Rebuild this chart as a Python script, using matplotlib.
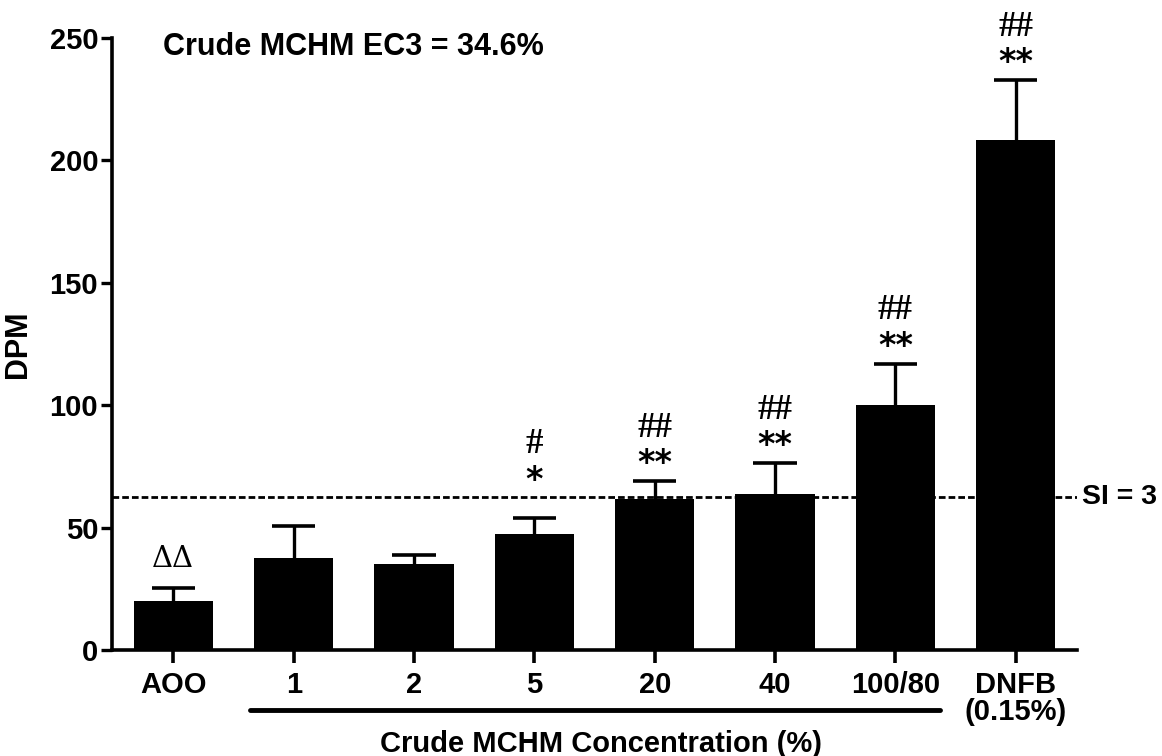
import numpy as np
import matplotlib.pyplot as plt

# groups on the x axis
groups = ["AOO", "1", "2", "5", "20", "40", "100/80", "DNFB\n(0.15%)"]
# mean DPM and upper error (SEM)
dpm_mean = [20.2, 37.6, 35.1, 47.3, 61.6, 63.6, 100.0, 208.5]
dpm_err = [5.0, 13.2, 3.7, 6.7, 7.4, 12.8, 17.0, 24.5]
# significance marks above each bar
marks_top = ["\u0394\u0394", "", "", "#", "##", "##", "##", "##"]
marks_low = ["", "", "", "*", "**", "**", "**", "**"]
si3_level = 62.4
ec3_text = "Crude MCHM EC3 = 34.6%"

bold = {"family": "Liberation Sans", "weight": "bold"}
FS = 21

fig = plt.figure(figsize=(11.62, 7.56), dpi=100)
ax = fig.add_axes([0.0964, 0.1402, 0.8305, 0.8095])

x = np.arange(len(groups))
mean = np.array(dpm_mean)
top = mean + np.array(dpm_err)
ax.bar(x, mean, width=0.66, color="black", zorder=3)
# upper-only error bars with wide caps
ax.vlines(x, mean, top, color="black", lw=2.4, zorder=2)
ax.hlines(top, x - 0.18, x + 0.18, color="black", lw=2.6, zorder=2)

# SI = 3 threshold
ax.axhline(si3_level, color="black", lw=2.0, ls=(0, (2.4, 1.1)), zorder=4)
ax.text(7.555, si3_level, "SI = 3", fontsize=FS - 0.5, va="center", ha="left",
        clip_on=False, **bold)

for xi, t, s, tp in zip(x, marks_top, marks_low, top):
    if s:
        ys = max(tp, si3_level) + 7
        ax.text(xi, ys, s, ha="center", va="center", fontsize=24,
                family="DejaVu Sans", weight="bold")
        ax.text(xi, ys + 14.5, t, ha="center", va="center", fontsize=25,
                family="Liberation Serif", weight="bold")
    elif t:
        ax.text(xi, tp + 12, t, ha="center", va="center", fontsize=21,
                family="DejaVu Serif")

ax.set_xlim(-0.51, 7.51)
ax.set_ylim(0, 250)
ax.set_yticks([0, 50, 100, 150, 200, 250])
ax.set_xticks(x)
ax.set_xticklabels(groups, fontsize=FS, linespacing=0.95, **bold)
for lab in ax.get_yticklabels():
    lab.set_fontsize(FS)
    lab.set_fontfamily("Liberation Sans")
    lab.set_fontweight("bold")
ax.tick_params(axis="x", length=9, width=2.6, pad=6)
ax.tick_params(axis="y", length=8, width=2.4, pad=2)

for side in ["top", "right"]:
    ax.spines[side].set_visible(False)
for side in ["left", "bottom"]:
    ax.spines[side].set_linewidth(2.6)

ax.set_ylabel("DPM", fontsize=22, labelpad=12, **bold)

ax.text(0.053, 0.985, ec3_text, transform=ax.transAxes, fontsize=22,
        va="center", ha="left", **bold)

# bracket under the MCHM concentrations
ax.plot([0.64, 6.37], [-24.5, -24.5], color="black", lw=3.5,
        solid_capstyle="round", clip_on=False)
ax.text(3.55, -38.5, "Crude MCHM Concentration (%)", fontsize=FS,
        ha="center", va="center", **bold)

fig.savefig("out.png", dpi=100)
